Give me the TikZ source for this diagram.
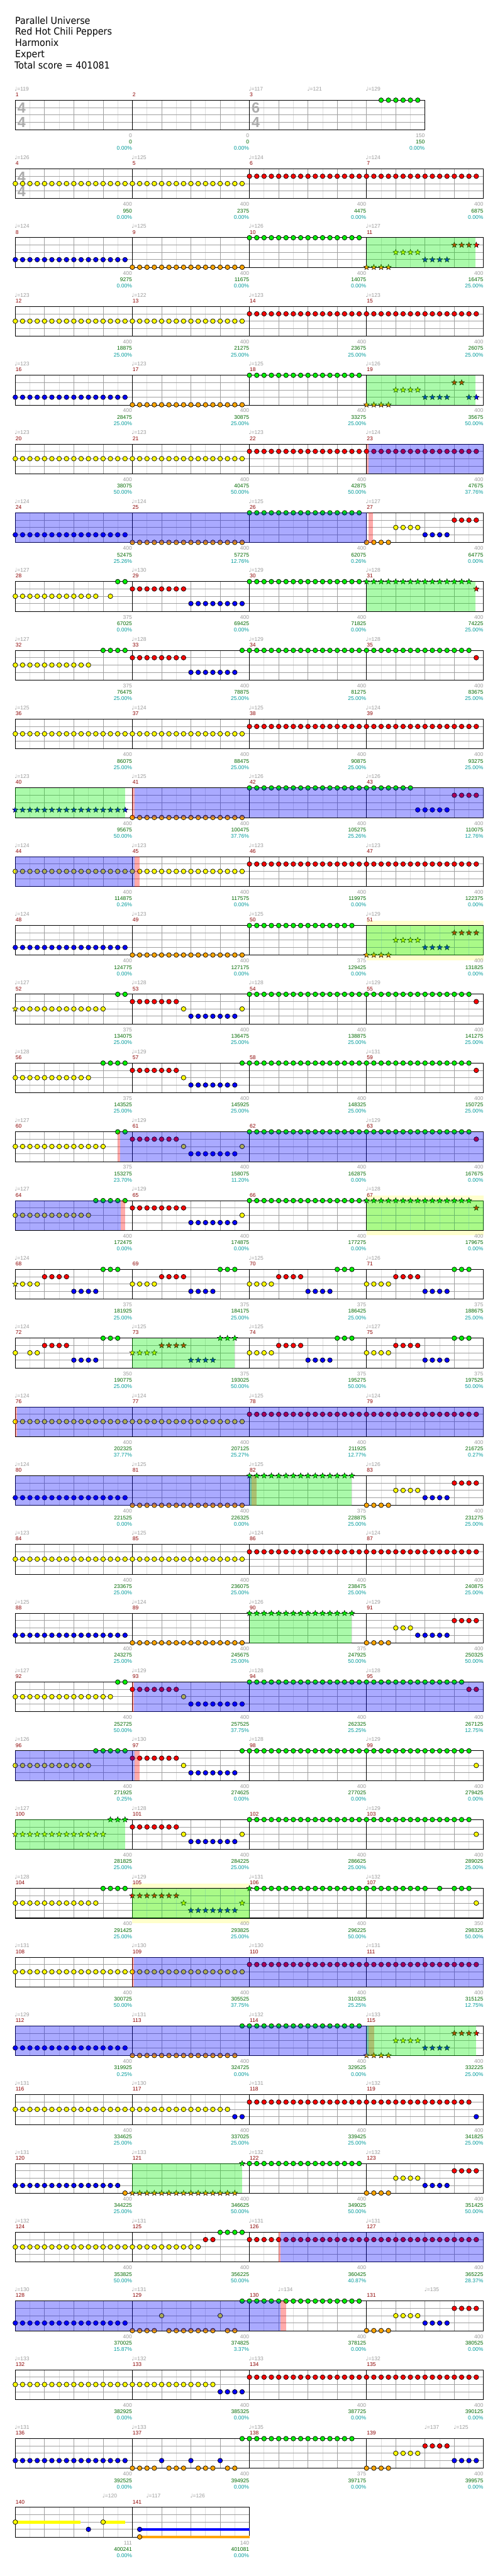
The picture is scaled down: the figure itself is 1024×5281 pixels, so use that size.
\documentclass[tikz,border=0pt]{standalone}
\usepackage{fontspec}
\setmainfont{Liberation Sans}
\newfontfamily\hdrfont{DejaVu Sans}[FakeStretch=0.92]
\newfontfamily\djvfont{DejaVu Sans}
\usetikzlibrary{shapes.geometric}
\definecolor{nG}{RGB}{0,240,0}
\definecolor{nR}{RGB}{255,0,0}
\definecolor{nY}{RGB}{255,255,0}
\definecolor{nB}{RGB}{0,0,255}
\definecolor{nO}{RGB}{255,165,0}
\definecolor{lgrid}{RGB}{222,222,222}
\definecolor{dgrid}{RGB}{160,160,160}
\definecolor{tgray}{RGB}{155,155,155}
\definecolor{mred}{RGB}{140,0,0}
\definecolor{sgreen}{RGB}{0,105,0}
\definecolor{pteal}{RGB}{0,155,155}
\definecolor{tsgray}{RGB}{172,172,172}
\definecolor{paley}{RGB}{255,255,204}
\def\offG{0}\def\offR{15}\def\offY{30}\def\offB{45}\def\offO{60.5}
\tikzset{
  starnote/.style={star,star points=5,star point ratio=2.3,minimum size=12pt,inner sep=0pt,draw=black,line width=0.6pt},
  smalltxt/.style={inner sep=0pt,font=\fontsize{11}{11}\selectfont},
  tsig/.style={inner sep=0pt,text=tsgray,font=\bfseries\fontsize{30}{30}\selectfont},
  hdr/.style={anchor=base west,inner sep=0pt,font=\hdrfont\fontsize{20}{20}\selectfont}
}
\newcommand\ncirc[3]{\edef\laneoff{\csname off#2\endcsname}\foreach \s in {#3}{\filldraw[fill=n#2,draw=black,line width=0.9pt] ({31.33+15*\s},{205.33+141*#1+\laneoff}) circle[radius=4.8];}}
\newcommand\nstar[3]{\edef\laneoff{\csname off#2\endcsname}\foreach \s in {#3}{\node[starnote,fill=n#2] at ({31.33+15*\s},{205.33+141*#1+\laneoff}) {};}}
\newcommand\staff[3]{%
  \pgfmathsetmacro\rowT{205.33+141*#1}%
  \pgfmathtruncatemacro\nh{#2/2-1}%
  \foreach \k in {1,...,\nh}{\ifodd\k\relax\draw[lgrid,line width=1pt] ({31.33+30*\k},\rowT) -- ++(0,61);\fi}
  \foreach \j in {15,30,45}{\draw[dgrid,line width=1pt] (31.33,\rowT+\j) -- ++({15*#2},0);}
  \foreach \k in {1,...,\nh}{\ifodd\k\relax\else\draw[dgrid,line width=1pt] ({31.33+30*\k},\rowT) -- ++(0,61);\fi}
  \foreach \m in {#3}{\draw[black,line width=1pt] ({31.33+15*\m},\rowT) -- ++(0,61);}
  \draw[black,line width=1.3pt] (31.33,\rowT) rectangle ++({15*#2},61);}
\newcommand\stdstaff[1]{\staff{#1}{64}{16,32,48}}
\newcommand\tsg[4]{\node[tsig] at ({31.33+15*(#2)+13},{205.33+141*#1+16}) {#3};\node[tsig] at ({31.33+15*(#2)+13},{205.33+141*#1+46}) {#4};}
\newcommand\ovr[4]{\fill[#4,opacity=0.333] (#2,{205.33+141*#1}) rectangle (#3,{205.33+141*#1+61});}
\newcommand\pyel[3]{\fill[paley] (#2,{205.33+141*#1-10}) rectangle (#3,{205.33+141*#1+71});}
\newcommand\measnum[3]{\node[smalltxt,anchor=base west,text=mred] at ({31.33+15*(#2)+0.5},{205.33+141*#1-7.6}) {#3};}
\newcommand\tempotxt[3]{\node[smalltxt,anchor=base west,text=tgray] at ({31.33+15*(#2)-1.5},{205.33+141*#1-19.5}) {{\djvfont\fontsize{11}{11}\selectfont ♩}=#3};}
\newcommand\scoretxt[5]{%
  \node[smalltxt,anchor=base east,text=tgray] at ({31.33+15*(#2)-0.5},{205.33+141*#1+76.4}) {#3};
  \node[smalltxt,anchor=base east,text=sgreen] at ({31.33+15*(#2)-0.5},{205.33+141*#1+89.7}) {#4};
  \node[smalltxt,anchor=base east,text=pteal] at ({31.33+15*(#2)-0.5},{205.33+141*#1+102.7}) {#5\%};}
\newcommand\meas[7]{\measnum{#1}{16*#2}{#3}\if\relax\detokenize{#4}\relax\else\tempotxt{#1}{16*#2}{#4}\fi\scoretxt{#1}{16*#2+16}{#5}{#6}{#7}}
\begin{document}
\begin{tikzpicture}[x=1pt,y=-1pt]
\useasboundingbox (0,0) rectangle (1024,5281);
\fill[white] (0,0) rectangle (1024,5281);
% header
\node[hdr] (title) at (31,49.3) {Parallel Universe};
\node[hdr] (artist) at (31,72) {Red Hot Chili Peppers};
\node[hdr] (charter) at (31,95) {Harmonix};
\node[hdr] (diff) at (31,118.3) {Expert};
\node[hdr] (total) at (29.5,141.3) {Total score = 401081};
% row 0
\staff{0}{56}{16,32}\tsg{0}{0}{4}{4}\tsg{0}{32}{6}{4}
\ncirc{0}{G}{50,...,55}
\measnum{0}{0}{1}\measnum{0}{16}{2}\measnum{0}{32}{3}
\tempotxt{0}{0}{119}\tempotxt{0}{32}{117}\tempotxt{0}{40}{121}\tempotxt{0}{48}{129}
\scoretxt{0}{16}{0}{0}{0.00}\scoretxt{0}{32}{0}{0}{0.00}\scoretxt{0}{56}{150}{150}{0.00}
% row 1
\stdstaff{1}\tsg{1}{0}{4}{4}
\ncirc{1}{Y}{0,...,31}\ncirc{1}{R}{32,...,63}
\meas{1}{0}{4}{126}{400}{950}{0.00}\meas{1}{1}{5}{125}{400}{2375}{0.00}\meas{1}{2}{6}{124}{400}{4475}{0.00}\meas{1}{3}{7}{124}{400}{6875}{0.00}
% row 2
\stdstaff{2}
\ncirc{2}{B}{0,...,15}\ncirc{2}{O}{16,...,31}\ncirc{2}{G}{32,...,47}
\nstar{2}{O}{48,...,51}\nstar{2}{Y}{52,...,55}\nstar{2}{B}{56,...,59}\nstar{2}{R}{60,...,63}
\ovr{2}{751.33}{975}{nG}
\meas{2}{0}{8}{124}{400}{9275}{0.00}\meas{2}{1}{9}{125}{400}{11675}{0.00}\meas{2}{2}{10}{126}{400}{14075}{0.00}\meas{2}{3}{11}{127}{400}{16475}{25.00}
% row 3
\stdstaff{3}
\ncirc{3}{Y}{0,...,31}\ncirc{3}{R}{32,...,63}
\meas{3}{0}{12}{123}{400}{18875}{25.00}\meas{3}{1}{13}{122}{400}{21275}{25.00}\meas{3}{2}{14}{123}{400}{23675}{25.00}\meas{3}{3}{15}{123}{400}{26075}{25.00}
% row 4
\stdstaff{4}
\ncirc{4}{B}{0,...,15}\ncirc{4}{O}{16,...,31}\ncirc{4}{G}{32,...,47}
\nstar{4}{O}{48,...,51}\nstar{4}{Y}{52,...,55}\nstar{4}{B}{56,...,59}\nstar{4}{R}{60,61}\nstar{4}{B}{62,63}
\ovr{4}{751.33}{975}{nG}
\meas{4}{0}{16}{123}{400}{28475}{25.00}\meas{4}{1}{17}{123}{400}{30875}{25.00}\meas{4}{2}{18}{125}{400}{33275}{25.00}\meas{4}{3}{19}{126}{400}{35675}{50.00}
% row 5
\stdstaff{5}
\ncirc{5}{Y}{0,...,31}\ncirc{5}{R}{32,...,63}
\ovr{5}{751.33}{755}{nR}\ovr{5}{755}{991.33}{nB}
\meas{5}{0}{20}{123}{400}{38075}{50.00}\meas{5}{1}{21}{123}{400}{40475}{50.00}\meas{5}{2}{22}{123}{400}{42875}{50.00}\meas{5}{3}{23}{124}{400}{47675}{37.76}
% row 6
\stdstaff{6}
\ncirc{6}{B}{0,...,15}\ncirc{6}{O}{16,...,31}\ncirc{6}{G}{32,...,47}
\ncirc{6}{O}{48,...,51}\ncirc{6}{Y}{52,...,55}\ncirc{6}{B}{56,...,59}\ncirc{6}{R}{60,...,63}
\ovr{6}{31.33}{751.33}{nB}\ovr{6}{755}{765}{nR}
\meas{6}{0}{24}{124}{400}{52475}{25.26}\meas{6}{1}{25}{124}{400}{57275}{12.76}\meas{6}{2}{26}{125}{400}{62075}{0.26}\meas{6}{3}{27}{127}{400}{64775}{0.00}
% row 7
\stdstaff{7}
\ncirc{7}{Y}{0,...,11,13}\ncirc{7}{G}{14,15}\ncirc{7}{R}{16,...,23}\ncirc{7}{B}{24,...,31}\ncirc{7}{G}{32,...,47}
\nstar{7}{G}{48,...,62}\nstar{7}{R}{63}
\ovr{7}{751.33}{975}{nG}
\meas{7}{0}{28}{127}{375}{67025}{0.00}\meas{7}{1}{29}{130}{400}{69425}{0.00}\meas{7}{2}{30}{129}{400}{71825}{0.00}\meas{7}{3}{31}{128}{400}{74225}{25.00}
% row 8
\stdstaff{8}
\ncirc{8}{Y}{0,...,10}\ncirc{8}{G}{12,...,15}\ncirc{8}{R}{16,...,23}\ncirc{8}{B}{24,...,30}\ncirc{8}{G}{31,...,62}\ncirc{8}{R}{63}
\meas{8}{0}{32}{127}{375}{76475}{25.00}\meas{8}{1}{33}{128}{400}{78875}{25.00}\meas{8}{2}{34}{129}{400}{81275}{25.00}\meas{8}{3}{35}{128}{400}{83675}{25.00}
% row 9
\stdstaff{9}
\ncirc{9}{Y}{0,...,31}\ncirc{9}{R}{32,...,63}
\meas{9}{0}{36}{125}{400}{86075}{25.00}\meas{9}{1}{37}{124}{400}{88475}{25.00}\meas{9}{2}{38}{125}{400}{90875}{25.00}\meas{9}{3}{39}{124}{400}{93275}{25.00}
% row 10
\stdstaff{10}
\nstar{10}{B}{0,...,15}\ncirc{10}{O}{16,...,31}\ncirc{10}{G}{32,...,54}\ncirc{10}{B}{55,...,59}\ncirc{10}{R}{60,...,63}
\ovr{10}{31.33}{256.33}{nG}\ovr{10}{271.33}{276}{nR}\ovr{10}{276}{991.33}{nB}
\meas{10}{0}{40}{123}{400}{95675}{50.00}\meas{10}{1}{41}{125}{400}{100475}{37.76}\meas{10}{2}{42}{126}{400}{105275}{25.26}\meas{10}{3}{43}{126}{400}{110075}{12.76}
% row 11
\stdstaff{11}
\ncirc{11}{Y}{0,...,31}\ncirc{11}{R}{32,...,63}
\ovr{11}{31.33}{276}{nB}\ovr{11}{276}{286}{nR}
\meas{11}{0}{44}{124}{400}{114875}{0.26}\meas{11}{1}{45}{123}{400}{117575}{0.00}\meas{11}{2}{46}{123}{400}{119975}{0.00}\meas{11}{3}{47}{123}{400}{122375}{0.00}
% row 12
\pyel{12}{751.33}{991.33}
\stdstaff{12}
\ncirc{12}{B}{0,...,15}\ncirc{12}{O}{16,...,31}\ncirc{12}{G}{32,...,46}
\nstar{12}{O}{48,...,51}\nstar{12}{Y}{52,...,55}\nstar{12}{B}{56,...,59}\nstar{12}{R}{60,...,63}
\ovr{12}{751.33}{991.33}{nG}
\meas{12}{0}{48}{124}{400}{124775}{0.00}\meas{12}{1}{49}{123}{400}{127175}{0.00}\meas{12}{2}{50}{125}{375}{129425}{0.00}\meas{12}{3}{51}{129}{400}{131825}{0.00}
% row 13
\stdstaff{13}
\nstar{13}{Y}{0}\ncirc{13}{Y}{1,...,12}\ncirc{13}{G}{14,15}\ncirc{13}{R}{16,...,22}\ncirc{13}{Y}{23}\ncirc{13}{B}{24,...,30}\ncirc{13}{Y}{31}\ncirc{13}{G}{32,...,62}\ncirc{13}{R}{63}
\meas{13}{0}{52}{127}{375}{134075}{25.00}\meas{13}{1}{53}{128}{400}{136475}{25.00}\meas{13}{2}{54}{128}{400}{138875}{25.00}\meas{13}{3}{55}{129}{400}{141275}{25.00}
% row 14
\stdstaff{14}
\ncirc{14}{Y}{0,...,10}\ncirc{14}{G}{12,...,15}\ncirc{14}{R}{16,...,22}\ncirc{14}{Y}{23}\ncirc{14}{B}{24,...,30}\ncirc{14}{G}{31,...,62}\ncirc{14}{R}{63}
\meas{14}{0}{56}{128}{375}{143525}{25.00}\meas{14}{1}{57}{129}{400}{145925}{25.00}\meas{14}{2}{58}{}{400}{148325}{25.00}\meas{14}{3}{59}{131}{400}{150725}{25.00}
% row 15
\stdstaff{15}
\ncirc{15}{Y}{0,...,12}\ncirc{15}{G}{14,15}\ncirc{15}{R}{16,...,22}\ncirc{15}{Y}{23}\ncirc{15}{B}{24,...,30}\ncirc{15}{Y}{31}\ncirc{15}{G}{32,...,62}\ncirc{15}{R}{63}
\ovr{15}{241}{246}{nR}\ovr{15}{246}{991.33}{nB}
\meas{15}{0}{60}{127}{375}{153275}{23.70}\meas{15}{1}{61}{129}{400}{158075}{11.20}\meas{15}{2}{62}{}{400}{162875}{0.00}\meas{15}{3}{63}{129}{400}{167675}{0.00}
% row 16
\pyel{16}{751.33}{991.33}
\stdstaff{16}
\ncirc{16}{Y}{0,...,10}\ncirc{16}{G}{11,...,15}\ncirc{16}{R}{16,...,23}\ncirc{16}{B}{24,...,30}\ncirc{16}{Y}{31}\ncirc{16}{G}{32,...,47}
\nstar{16}{G}{48,...,62}\nstar{16}{R}{63}
\ovr{16}{31.33}{247}{nB}\ovr{16}{247}{256}{nR}\ovr{16}{751.33}{991.33}{nG}
\meas{16}{0}{64}{127}{400}{172475}{0.00}\meas{16}{1}{65}{129}{400}{174875}{0.00}\meas{16}{2}{66}{}{400}{177275}{0.00}\meas{16}{3}{67}{128}{400}{179675}{0.00}
% row 17
\stdstaff{17}
\nstar{17}{Y}{0}\ncirc{17}{Y}{1,2,3,16,17,18,19,32,33,34,35,48,49,50,51}
\ncirc{17}{R}{4,...,7,20,21,22,23,36,37,38,39,52,53,54,55}
\ncirc{17}{B}{8,...,11,24,25,26,27,40,41,42,43,56,57,58,59}
\ncirc{17}{G}{12,13,14,28,29,30,44,45,46,60,61,62}
\meas{17}{0}{68}{124}{375}{181925}{25.00}\meas{17}{1}{69}{}{375}{184175}{25.00}\meas{17}{2}{70}{125}{375}{186425}{25.00}\meas{17}{3}{71}{126}{375}{188675}{25.00}
% row 18
\stdstaff{18}
\ncirc{18}{Y}{0,2,3,32,33,34,35,48,49,50,51}
\ncirc{18}{R}{4,...,7,36,37,38,39,52,53,54,55}
\ncirc{18}{B}{8,...,11,40,41,42,43,56,57,58,59}
\ncirc{18}{G}{12,13,14,44,45,46,60,61,62}
\nstar{18}{Y}{16,...,19}\nstar{18}{R}{20,...,23}\nstar{18}{B}{24,...,27}\nstar{18}{G}{28,29,30}
\ovr{18}{271.33}{481.33}{nG}
\meas{18}{0}{72}{124}{350}{190775}{25.00}\meas{18}{1}{73}{125}{375}{193025}{50.00}\meas{18}{2}{74}{125}{375}{195275}{50.00}\meas{18}{3}{75}{127}{375}{197525}{50.00}
% row 19
\stdstaff{19}
\ncirc{19}{Y}{0,...,31}\ncirc{19}{R}{32,...,63}
\ovr{19}{31.33}{35}{nR}\ovr{19}{35}{991.33}{nB}
\meas{19}{0}{76}{124}{400}{202325}{37.77}\meas{19}{1}{77}{124}{400}{207125}{25.27}\meas{19}{2}{78}{125}{400}{211925}{12.77}\meas{19}{3}{79}{124}{400}{216725}{0.27}
% row 20
\stdstaff{20}
\ncirc{20}{B}{0,...,15}\ncirc{20}{O}{16,...,31}\nstar{20}{G}{32,...,46}
\ncirc{20}{O}{48,...,51}\ncirc{20}{Y}{52,...,55}\ncirc{20}{B}{56,...,59}\ncirc{20}{R}{60,...,63}
\ovr{20}{31.33}{516}{nB}\ovr{20}{516}{526}{nR}\ovr{20}{511.33}{721.33}{nG}
\meas{20}{0}{80}{124}{400}{221525}{0.00}\meas{20}{1}{81}{125}{400}{226325}{0.00}\meas{20}{2}{82}{125}{375}{228875}{25.00}\meas{20}{3}{83}{126}{400}{231275}{25.00}
% row 21
\stdstaff{21}
\ncirc{21}{Y}{0,...,31}\ncirc{21}{R}{32,...,63}
\meas{21}{0}{84}{123}{400}{233675}{25.00}\meas{21}{1}{85}{125}{400}{236075}{25.00}\meas{21}{2}{86}{124}{400}{238475}{25.00}\meas{21}{3}{87}{124}{400}{240875}{25.00}
% row 22
\stdstaff{22}
\ncirc{22}{B}{0,...,15}\ncirc{22}{O}{16,...,31}\nstar{22}{G}{32,...,46}
\ncirc{22}{O}{48,...,51}\ncirc{22}{Y}{52,53,54}\ncirc{22}{B}{55,...,59}\ncirc{22}{R}{60,...,63}
\ovr{22}{511.33}{721.33}{nG}
\meas{22}{0}{88}{125}{400}{243275}{25.00}\meas{22}{1}{89}{124}{400}{245675}{25.00}\meas{22}{2}{90}{126}{375}{247925}{50.00}\meas{22}{3}{91}{129}{400}{250325}{50.00}
% row 23
\stdstaff{23}
\ncirc{23}{Y}{0,...,13}\ncirc{23}{G}{14,15}\ncirc{23}{R}{16,...,22}\ncirc{23}{Y}{23}\ncirc{23}{B}{24,...,31}\ncirc{23}{G}{32,...,61}\ncirc{23}{R}{62,63}
\ovr{23}{271.33}{275}{nR}\ovr{23}{275}{991.33}{nB}
\meas{23}{0}{92}{127}{400}{252725}{50.00}\meas{23}{1}{93}{129}{400}{257525}{37.75}\meas{23}{2}{94}{128}{400}{262325}{25.25}\meas{23}{3}{95}{128}{400}{267125}{12.75}
% row 24
\stdstaff{24}
\ncirc{24}{Y}{0,...,10}\ncirc{24}{G}{11,...,15}\ncirc{24}{R}{16,...,22}\ncirc{24}{Y}{23}\ncirc{24}{B}{24,...,30}\ncirc{24}{G}{31,...,62}\ncirc{24}{Y}{63}
\ovr{24}{31.33}{276}{nB}\ovr{24}{276}{286}{nR}
\meas{24}{0}{96}{126}{400}{271925}{0.25}\meas{24}{1}{97}{130}{400}{274625}{0.00}\meas{24}{2}{98}{128}{400}{277025}{0.00}\meas{24}{3}{99}{129}{400}{279425}{0.00}
% row 25
\stdstaff{25}
\nstar{25}{Y}{0,...,12}\nstar{25}{G}{13,14,15}\ncirc{25}{R}{16,...,22}\ncirc{25}{Y}{23}\ncirc{25}{B}{24,...,30}\ncirc{25}{Y}{31}\ncirc{25}{G}{32,...,62}\ncirc{25}{Y}{63}
\ovr{25}{31.33}{256.33}{nG}
\meas{25}{0}{100}{127}{400}{281825}{25.00}\meas{25}{1}{101}{128}{400}{284225}{25.00}\meas{25}{2}{102}{}{400}{286625}{25.00}\meas{25}{3}{103}{129}{400}{289025}{25.00}
% row 26
\pyel{26}{271.33}{511.33}
\stdstaff{26}
\ncirc{26}{Y}{0,...,11}\ncirc{26}{G}{12,...,15}
\nstar{26}{R}{16,...,22}\nstar{26}{Y}{23}\nstar{26}{B}{24,...,30}\nstar{26}{Y}{31}\nstar{26}{G}{32}
\ncirc{26}{G}{33,...,56,58,60,61,62}\ncirc{26}{Y}{63}
\ovr{26}{271.33}{511.33}{nG}
\meas{26}{0}{104}{128}{400}{291425}{25.00}\meas{26}{1}{105}{129}{400}{293825}{25.00}\meas{26}{2}{106}{131}{400}{296225}{50.00}\meas{26}{3}{107}{132}{350}{298325}{50.00}
% row 27
\stdstaff{27}
\ncirc{27}{Y}{0,...,31}\ncirc{27}{R}{32,...,63}
\ovr{27}{271.33}{275}{nR}\ovr{27}{275}{991.33}{nB}
\meas{27}{0}{108}{131}{400}{300725}{50.00}\meas{27}{1}{109}{130}{400}{305525}{37.75}\meas{27}{2}{110}{130}{400}{310325}{25.25}\meas{27}{3}{111}{131}{400}{315125}{12.75}
% row 28
\stdstaff{28}
\ncirc{28}{B}{0,...,15}\ncirc{28}{O}{16,...,30}\ncirc{28}{G}{31,...,47}
\nstar{28}{O}{48,...,51}\nstar{28}{Y}{52,...,55}\nstar{28}{B}{56,...,59}\nstar{28}{R}{60,...,63}
\ovr{28}{31.33}{756}{nB}\ovr{28}{756}{767}{nR}\ovr{28}{751.33}{976}{nG}
\meas{28}{0}{112}{129}{400}{319925}{0.25}\meas{28}{1}{113}{131}{400}{324725}{0.00}\meas{28}{2}{114}{132}{400}{329525}{0.00}\meas{28}{3}{115}{133}{400}{332225}{25.00}
% row 29
\stdstaff{29}
\ncirc{29}{Y}{0,...,29}\ncirc{29}{B}{30,31}\ncirc{29}{R}{32,...,62}\ncirc{29}{B}{63}
\meas{29}{0}{116}{131}{400}{334625}{25.00}\meas{29}{1}{117}{130}{400}{337025}{25.00}\meas{29}{2}{118}{131}{400}{339425}{25.00}\meas{29}{3}{119}{132}{400}{341825}{25.00}
% row 30
\stdstaff{30}
\ncirc{30}{B}{0,...,14}\ncirc{30}{O}{15}\nstar{30}{O}{16,...,30}\nstar{30}{G}{31}\ncirc{30}{G}{32,...,47}
\ncirc{30}{O}{48,...,51}\ncirc{30}{Y}{52,...,55}\ncirc{30}{B}{56,...,59}\ncirc{30}{R}{60,...,63}
\ovr{30}{271.33}{496.33}{nG}
\meas{30}{0}{120}{131}{400}{344225}{25.00}\meas{30}{1}{121}{133}{400}{346625}{50.00}\meas{30}{2}{122}{132}{400}{349025}{50.00}\meas{30}{3}{123}{132}{400}{351425}{50.00}
% row 31
\stdstaff{31}
\ncirc{31}{Y}{0,...,25}\ncirc{31}{R}{26,27}\ncirc{31}{G}{28,...,31}\ncirc{31}{R}{32,...,63}
\ovr{31}{571}{575}{nR}\ovr{31}{575}{991.33}{nB}
\meas{31}{0}{124}{132}{400}{353825}{50.00}\meas{31}{1}{125}{131}{400}{356225}{50.00}\meas{31}{2}{126}{131}{400}{360425}{40.87}\meas{31}{3}{127}{131}{400}{365225}{28.37}
% row 32
\stdstaff{32}
\ncirc{32}{B}{0,...,15}\ncirc{32}{O}{16,...,19,21,22,23,24,25,26,27,29,30}\ncirc{32}{Y}{20,28}\ncirc{32}{G}{31,...,47}
\ncirc{32}{O}{48,...,51}\ncirc{32}{Y}{52,...,55}\ncirc{32}{B}{56,...,59}\ncirc{32}{R}{60,...,63}
\ovr{32}{31.33}{575}{nB}\ovr{32}{575}{586}{nR}
\meas{32}{0}{128}{130}{400}{370025}{15.87}\meas{32}{1}{129}{131}{400}{374825}{3.37}\meas{32}{2}{130}{}{400}{378125}{0.00}\meas{32}{3}{131}{}{400}{380525}{0.00}
\tempotxt{32}{36}{134}\tempotxt{32}{56}{135}
% row 33
\stdstaff{33}
\ncirc{33}{Y}{0,...,27}\ncirc{33}{B}{28,...,31}\ncirc{33}{R}{32,...,63}
\meas{33}{0}{132}{133}{400}{382925}{0.00}\meas{33}{1}{133}{132}{400}{385325}{0.00}\meas{33}{2}{134}{133}{400}{387725}{0.00}\meas{33}{3}{135}{132}{400}{390125}{0.00}
% row 34
\stdstaff{34}
\ncirc{34}{B}{0,...,15,20,24,28}\ncirc{34}{O}{16,...,19,21,22,23,25,26,27,29,30}\ncirc{34}{G}{31,...,46}
\ncirc{34}{O}{48,...,51}\ncirc{34}{Y}{52,...,55}\ncirc{34}{R}{56,...,59}\ncirc{34}{B}{60,...,63}
\meas{34}{0}{136}{131}{400}{392525}{0.00}\meas{34}{1}{137}{133}{400}{394925}{0.00}\meas{34}{2}{138}{135}{375}{397175}{0.00}\meas{34}{3}{139}{}{400}{399575}{0.00}
\tempotxt{34}{56}{137}\tempotxt{34}{60}{125}
% row 35
\staff{35}{32}{16}
\draw[nY,line width=6pt] (31.33,{205.33+141*35+30}) -- (165,{205.33+141*35+30});
\draw[nY,line width=6pt] (211.33,{205.33+141*35+30}) -- (256,{205.33+141*35+30});
\draw[nB,line width=6pt] (286.33,{205.33+141*35+45}) -- (511.33,{205.33+141*35+45});
\draw[nO,line width=6pt] (286.33,{205.33+141*35+60.5}) -- (511.33,{205.33+141*35+60.5});
\ncirc{35}{Y}{0,12}\ncirc{35}{B}{10,17}\ncirc{35}{O}{17}
\measnum{35}{0}{140}\measnum{35}{16}{141}
\tempotxt{35}{12}{120}\tempotxt{35}{18}{117}\tempotxt{35}{24}{126}
\scoretxt{35}{16}{111}{400241}{0.00}\scoretxt{35}{32}{140}{401081}{0.00}
\end{tikzpicture}
\end{document}
